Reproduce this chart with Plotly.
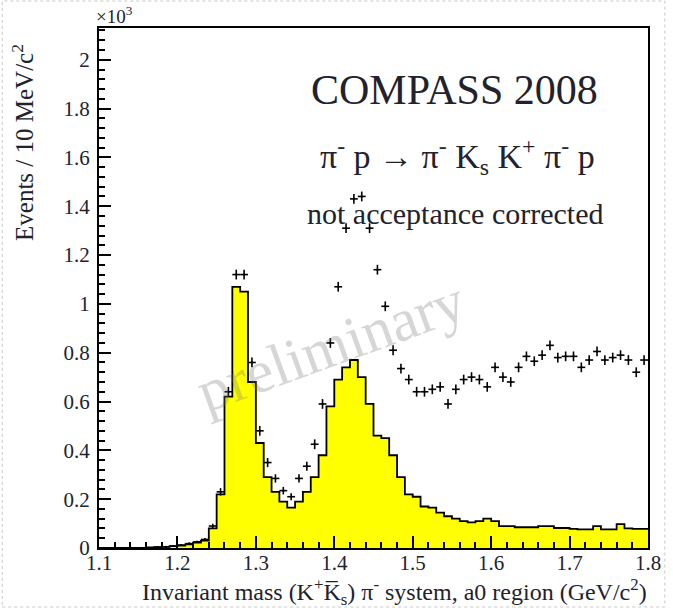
import plotly.graph_objects as go

# Binning of the invariant-mass histogram (GeV/c^2)
mass_start = 1.10
bin_width = 0.01

# Yellow histogram, events per 10 MeV/c^2 in units of 10^3 (70 bins, 1.10 .. 1.80)
hist_counts = [
    0, 0, 0, 0, 0, 0, 0.002, 0.003,                      # 1.10 - 1.17
    0.005, 0.008, 0.010, 0.015, 0.022, 0.030, 0.080,     # 1.18 - 1.24
    0.22, 0.62, 1.07, 1.05, 0.68, 0.43, 0.29, 0.23,      # 1.25 - 1.32
    0.19, 0.165, 0.19, 0.23, 0.29, 0.38, 0.58, 0.69,     # 1.33 - 1.40
    0.74, 0.77, 0.70, 0.59, 0.46, 0.45, 0.38, 0.29,      # 1.41 - 1.48
    0.22, 0.21, 0.17, 0.165, 0.145, 0.13, 0.12, 0.11,    # 1.49 - 1.56
    0.105, 0.11, 0.12, 0.11, 0.09, 0.09, 0.085, 0.085,   # 1.57 - 1.64
    0.085, 0.09, 0.09, 0.082, 0.082, 0.078, 0.076,       # 1.65 - 1.71
    0.076, 0.09, 0.076, 0.076, 0.098, 0.08, 0.078, 0.078 # 1.72 - 1.79
]

# Measured data points (crosses), same binning; None = no point drawn
data_counts = [
    None, None, None, None, None, None, None, 0.003,     # 1.10 - 1.17
    0.005, 0.008, 0.012, 0.018, 0.025, 0.035, 0.09,      # 1.18 - 1.24
    0.23, 0.64, 1.12, 1.12, 0.76, 0.48, 0.35, 0.285,     # 1.25 - 1.32
    0.235, 0.21, 0.285, 0.335, 0.425, 0.59, 0.84, 1.07,  # 1.33 - 1.40
    1.31, 1.43, 1.44, 1.31, 1.14, 0.99, 0.81, 0.735,     # 1.41 - 1.48
    0.69, 0.64, 0.64, 0.65, 0.66, 0.59, 0.65, 0.69,      # 1.49 - 1.56
    0.70, 0.69, 0.66, 0.74, 0.70, 0.68, 0.74, 0.785,     # 1.57 - 1.64
    0.765, 0.79, 0.83, 0.78, 0.785, 0.785, 0.74,         # 1.65 - 1.71
    0.77, 0.805, 0.77, 0.78, 0.79, 0.77, 0.72, 0.77      # 1.72 - 1.79
]

x_ticks = [1.1, 1.2, 1.3, 1.4, 1.5, 1.6, 1.7, 1.8]
x_ticktext = ["1.1", "1.2", "1.3", "1.4", "1.5", "1.6", "1.7", "1.8"]
y_ticks = [0, 0.2, 0.4, 0.6, 0.8, 1.0, 1.2, 1.4, 1.6, 1.8, 2.0]
y_ticktext = ["0", "0.2", "0.4", "0.6", "0.8", "1", "1.2", "1.4", "1.6", "1.8", "2"]

n_bins = len(hist_counts)
edges = [round(mass_start + bin_width * i, 4) for i in range(n_bins + 1)]
centers = [round(mass_start + bin_width * (i + 0.5), 4) for i in range(n_bins)]

SERIF = "Liberation Serif, Times New Roman, serif"
TXT = "#22222c"

fig = go.Figure()

# Filled step histogram
fig.add_trace(go.Scatter(
    x=edges,
    y=hist_counts + [hist_counts[-1]],
    mode="lines",
    line=dict(shape="hv", color="black", width=1.8),
    fill="tozeroy",
    fillcolor="#ffff00",
    hoverinfo="skip",
    showlegend=False,
))

# Data points with error crosses
pts_x = [c for c, v in zip(centers, data_counts) if v is not None]
pts_y = [v for v in data_counts if v is not None]
pts_err = [min(0.02, (v / 1000) ** 0.5) for v in pts_y]
fig.add_trace(go.Scatter(
    x=pts_x,
    y=pts_y,
    mode="markers",
    marker=dict(size=2, color="black"),
    error_x=dict(type="constant", value=bin_width / 2, width=0, thickness=1.6, color="black"),
    error_y=dict(type="data", array=pts_err, width=0, thickness=1.6, color="black"),
    showlegend=False,
))

axis_common = dict(
    ticks="inside",
    ticklen=12,
    tickwidth=1.5,
    tickcolor="black",
    showline=True,
    linecolor="black",
    linewidth=2,
    mirror=True,
    showgrid=False,
    zeroline=False,
    tickfont=dict(family=SERIF, size=21, color=TXT),
)

fig.update_layout(
    width=673,
    height=608,
    autosize=False,
    margin=dict(l=99, r=18, t=28, b=60),
    paper_bgcolor="white",
    plot_bgcolor="white",
    xaxis=dict(
        range=[1.1, 1.8],
        tickvals=x_ticks,
        ticktext=x_ticktext,
        minor=dict(dtick=0.02, ticks="inside", ticklen=6, tickwidth=1.5, tickcolor="black"),
        ticklabelstandoff=-5,
        **axis_common,
    ),
    yaxis=dict(
        range=[0, 2.13],
        tickvals=y_ticks,
        ticktext=y_ticktext,
        minor=dict(dtick=0.04, ticks="inside", ticklen=6, tickwidth=1.5, tickcolor="black"),
        ticklabelstandoff=3,
        **axis_common,
    ),
)

def px_x(px):
    return (px - 99) / 556.0

def px_y(py):
    return (548 - py) / 520.0

annotations = [
    dict(text="COMPASS 2008", x=px_x(459), y=px_y(90),
         font=dict(family=SERIF, size=42, color=TXT)),
    dict(text="π<sup>-</sup> p → π<sup>-</sup> K<sub>s</sub> K<sup>+</sup> π<sup>-</sup> p",
         x=px_x(462), y=px_y(156), font=dict(family=SERIF, size=34, color=TXT)),
    dict(text="not acceptance corrected", x=px_x(460), y=px_y(214),
         font=dict(family=SERIF, size=30, color=TXT)),
    dict(text="×10<sup>3</sup>", x=px_x(94), y=px_y(15), xanchor="left",
         font=dict(family=SERIF, size=19, color=TXT)),
    dict(text="Events / 10 MeV/c<sup>2</sup>", x=px_x(22), y=px_y(142), textangle=-90,
         font=dict(family=SERIF, size=25, color=TXT)),
    dict(text="Invariant mass (K<sup>+</sup>K̅<sub>s</sub>) π<sup>-</sup> system, a0 region (GeV/c<sup>2</sup>)",
         x=px_x(656), y=px_y(592), xanchor="right",
         font=dict(family=SERIF, size=24, color=TXT)),
    dict(text="preliminary", x=px_x(334), y=px_y(346), textangle=-20,
         font=dict(family=SERIF, size=60, color="rgba(120,120,120,0.30)")),
]
for a in annotations:
    a.setdefault("xanchor", "center")
    a.setdefault("yanchor", "middle")
    a.update(xref="paper", yref="paper", showarrow=False)
fig.update_layout(annotations=annotations)

# Dotted slide border around the whole figure
fig.add_shape(type="rect", xref="paper", yref="paper",
              x0=px_x(1), x1=px_x(672), y0=px_y(607), y1=px_y(1),
              line=dict(color="#c8c8c8", width=1, dash="dot"), layer="below")

fig.write_html("out.html")
